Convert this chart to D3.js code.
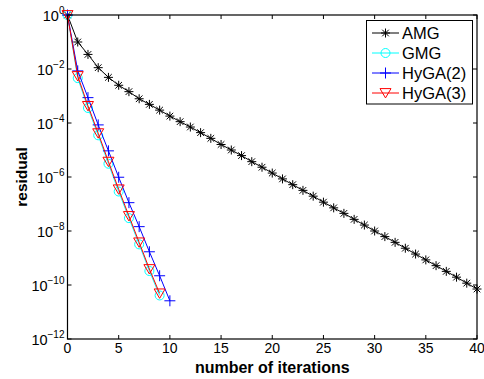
<!DOCTYPE html>
<html>
<head>
<meta charset="utf-8">
<script src="https://cdn.jsdelivr.net/npm/d3@7"></script>
<style>
  body { margin: 0; background: #fff; }
  text { font-family: "Liberation Sans", Arial, sans-serif; }
</style>
</head>
<body>
<div id="chart"></div>
<script>
// data

const iterations = d3.range(0, 41);

const amg = [1, 1.0e-1, 3.47e-2, 1.12e-2, 4.9e-3, 2.5e-3, 1.45e-3, 7.9e-4, 4.9e-4, 3.0e-4,
  1.8e-4, 1.12e-4, 7.1e-5, 4.4e-5, 2.7e-5, 1.6e-5, 1.0e-5, 6.2e-6, 3.7e-6, 2.3e-6,
  1.4e-6, 8.5e-7, 5.2e-7, 3.2e-7, 1.95e-7, 1.17e-7, 7.2e-8, 4.5e-8, 2.7e-8, 1.66e-8,
  1.0e-8, 6.2e-9, 3.8e-9, 2.3e-9, 1.4e-9, 8.5e-10, 5.2e-10, 3.2e-10, 1.95e-10, 1.17e-10,
  7.1e-11];
const gmg = [1, 4.6e-3, 3.6e-4, 3.5e-5, 3.1e-6, 2.9e-7, 3.0e-8, 3.2e-9, 3.3e-10, 4.1e-11];
const hyga2 = [1, 8.5e-3, 8.7e-4, 8.5e-5, 9.3e-6, 9.8e-7, 1.12e-7, 1.45e-8, 1.7e-9, 2.2e-10, 2.6e-11];
const hyga3 = [1, 5.5e-3, 4.3e-4, 4.2e-5, 3.7e-6, 3.5e-7, 3.6e-8, 3.8e-9, 3.9e-10, 4.9e-11];

const xTicks = [0, 5, 10, 15, 20, 25, 30, 35, 40];
const yTickExps = [0, -2, -4, -6, -8, -10, -12];

const seriesNames = ["AMG", "GMG", "HyGA(2)", "HyGA(3)"];
const seriesColors = ["#000000", "#00ffff", "#0000ff", "#ff0000"];
const seriesMarkers = ["star", "circle", "plus", "triangle"];

const width = 484, height = 379;
const margin = { left: 67.5, right: 7, top: 15, bottom: 40 };

const svg = d3.select("#chart").append("svg")
  .attr("width", width)
  .attr("height", height);

const x = d3.scaleLinear().domain([0, 40]).range([margin.left, width - margin.right]);
const y = d3.scaleLog().domain([1e-12, 1]).range([height - margin.bottom, margin.top]);

const x0 = x.range()[0], x1 = x.range()[1];
const y0 = y.range()[0], y1 = y.range()[1];

// axes box with inward ticks on all sides

const tickLen = 4;
const axes = svg.append("g").attr("stroke", "#000").attr("stroke-width", 1);

xTicks.forEach(t => {
  axes.append("line").attr("x1", x(t)).attr("x2", x(t)).attr("y1", y0).attr("y2", y0 - tickLen);
  axes.append("line").attr("x1", x(t)).attr("x2", x(t)).attr("y1", y1).attr("y2", y1 + tickLen);
});
yTickExps.forEach(e => {
  const v = Math.pow(10, e);
  axes.append("line").attr("x1", x0).attr("x2", x0 + tickLen).attr("y1", y(v)).attr("y2", y(v));
  axes.append("line").attr("x1", x1).attr("x2", x1 - tickLen).attr("y1", y(v)).attr("y2", y(v));
});

// tick labels

svg.append("g").selectAll("text")
  .data(xTicks)
  .join("text")
  .attr("x", d => x(d))
  .attr("y", y0 + 14)
  .attr("text-anchor", "middle")
  .attr("font-size", 14)
  .text(d => d);

const yl = svg.append("g").selectAll("text")
  .data(yTickExps)
  .join("text")
  .attr("x", x0 - 3)
  .attr("y", d => y(Math.pow(10, d)) + 6)
  .attr("text-anchor", "end")
  .attr("font-size", 14.5);
yl.append("tspan").text("10");
yl.append("tspan")
  .attr("dy", -7)
  .attr("font-size", 10)
  .text(d => (d < 0 ? "\u2212" + (-d) : d));

// axis labels

svg.append("text")
  .attr("x", (x0 + x1) / 2)
  .attr("y", height - 6)
  .attr("text-anchor", "middle")
  .attr("font-size", 16)
  .attr("font-weight", "bold")
  .text("number of iterations");

svg.append("text")
  .attr("transform", "translate(" + [27, (y0 + y1) / 2] + ") rotate(-90)")
  .attr("text-anchor", "middle")
  .attr("font-size", 15.5)
  .attr("font-weight", "bold")
  .text("residual");

// markers

function markerPath(type) {
  if (type === "star") {
    const r = 4.5, d = 3.3;
    return `M${-r},0H${r}M0,${-r}V${r}M${-d},${-d}L${d},${d}M${-d},${d}L${d},${-d}`;
  }
  if (type === "plus") {
    const r = 5.5;
    return `M${-r},0H${r}M0,${-r}V${r}`;
  }
  if (type === "triangle") {
    const r = 5.5;
    return `M${-r},${-r * 0.8}L${r},${-r * 0.8}L0,${r * 0.9}Z`;
  }
  return d3.arc()({ innerRadius: 0, outerRadius: 4.5, startAngle: 0, endAngle: 2 * Math.PI });
}

// lines

const allSeries = [amg, gmg, hyga2, hyga3];
const line = d3.line().x((d, i) => x(iterations[i])).y(d => y(d));

const plot = svg.append("g");
allSeries.forEach((vals, k) => {
  const g = plot.append("g");
  g.append("path")
    .attr("d", line(vals))
    .attr("fill", "none")
    .attr("stroke", seriesColors[k])
    .attr("stroke-width", 1);
  g.selectAll("path.m")
    .data(vals)
    .join("path")
    .attr("class", "m")
    .attr("transform", (d, i) => "translate(" + [x(iterations[i]), y(d)] + ")")
    .attr("d", markerPath(seriesMarkers[k]))
    .attr("fill", "none")
    .attr("stroke", seriesColors[k])
    .attr("stroke-width", 1);
});

// box on top

svg.append("rect")
  .attr("x", x0).attr("y", y1)
  .attr("width", x1 - x0).attr("height", y0 - y1)
  .attr("fill", "none").attr("stroke", "#000").attr("stroke-width", 1.2);

// legend

const legend = svg.append("g");
legend.append("rect")
  .attr("x", 366.5).attr("y", 20.5)
  .attr("width", 106).attr("height", 83.5)
  .attr("fill", "#fff").attr("stroke", "#000").attr("stroke-width", 1);

const items = legend.selectAll("g")
  .data(seriesNames)
  .join("g")
  .attr("transform", (d, i) => "translate(" + [372, 33 + i * 20] + ")");
items.append("line")
  .attr("x1", 0).attr("x2", 27)
  .attr("stroke", (d, i) => seriesColors[i]);
items.append("path")
  .attr("transform", "translate(13.5,0)")
  .attr("d", (d, i) => markerPath(seriesMarkers[i]))
  .attr("fill", "none")
  .attr("stroke", (d, i) => seriesColors[i]);
items.append("text")
  .attr("x", 30)
  .attr("y", 6)
  .attr("font-size", 16.5)
  .text(d => d);
</script>
</body>
</html>
